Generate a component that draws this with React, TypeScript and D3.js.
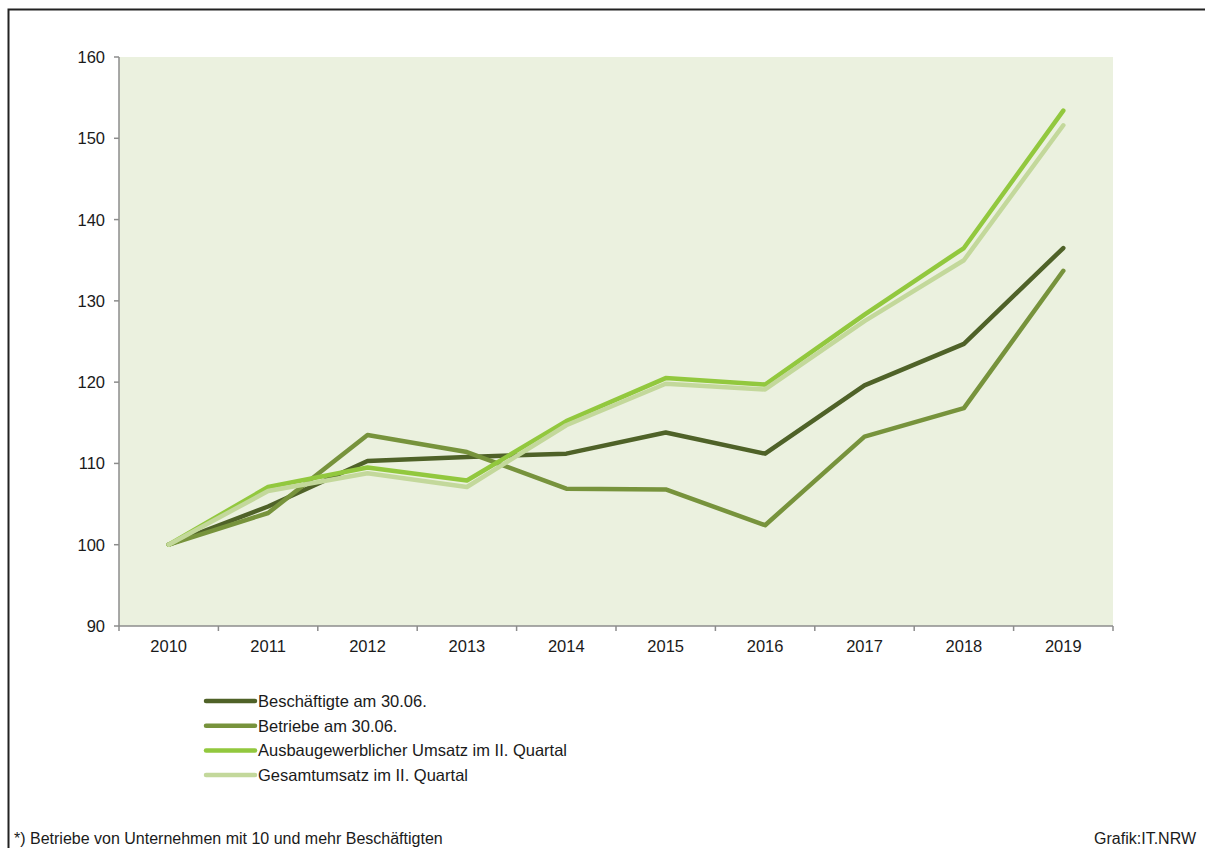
import React, { useRef, useEffect } from 'react';
import * as d3 from 'd3';

const years = ['2010', '2011', '2012', '2013', '2014', '2015', '2016', '2017', '2018', '2019'];
const beschaeftigte = [100, 104.7, 110.3, 110.8, 111.2, 113.8, 111.2, 119.6, 124.7, 136.5];
const betriebe = [100, 103.9, 113.5, 111.4, 106.9, 106.8, 102.4, 113.3, 116.8, 133.7];
const ausbauUmsatz = [100, 107.1, 109.5, 107.9, 115.2, 120.5, 119.7, 128.3, 136.5, 153.4];
const gesamtUmsatz = [100, 106.6, 108.8, 107.1, 114.7, 119.8, 119.1, 127.5, 135.0, 151.6];
const yTicks = [90, 100, 110, 120, 130, 140, 150, 160];

const seriesNames = [
  'Beschäftigte am 30.06.',
  'Betriebe am 30.06.',
  'Ausbaugewerblicher Umsatz im II. Quartal',
  'Gesamtumsatz im II. Quartal',
];
const seriesValues = [beschaeftigte, betriebe, ausbauUmsatz, gesamtUmsatz];
const seriesColors = ['#4f6228', '#77933c', '#92c83e', '#c3d89b'];

const W = 1205;
const H = 848;
const FONT = '"Liberation Sans", Arial, sans-serif';
const FS = 16.5;

export default function App() {
  const svgRef = useRef<SVGSVGElement>(null);

  useEffect(() => {
    if (!svgRef.current) return;
    const svg = d3.select(svgRef.current);
    svg.selectAll('*').remove();

    const left = 119, right = 1113, top = 57, bottom = 626;

    // rahmen: nur linke und obere kante sichtbar
    svg.append('path')
      .attr('d', `M8.5,${H} V9.5 H${W}`)
      .attr('fill', 'none')
      .attr('stroke', '#222').attr('stroke-width', 2);

    const x = d3.scaleBand<string>().domain(years).range([left, right]);
    const y = d3.scaleLinear().domain([90, 160]).range([bottom, top]);

    svg.append('rect')
      .attr('x', left).attr('y', top)
      .attr('width', right - left).attr('height', bottom - top)
      .attr('fill', '#ebf1df');

    // y-achse
    const gy = svg.append('g');
    gy.append('line')
      .attr('x1', left).attr('x2', left)
      .attr('y1', top).attr('y2', bottom)
      .attr('stroke', '#8c8c8c').attr('stroke-width', 1.5);
    yTicks.forEach(t => {
      gy.append('line')
        .attr('x1', left - 5).attr('x2', left)
        .attr('y1', y(t)).attr('y2', y(t))
        .attr('stroke', '#8c8c8c').attr('stroke-width', 1.5);
      gy.append('text')
        .attr('x', 105).attr('y', y(t) + 6)
        .attr('text-anchor', 'end')
        .attr('font-family', FONT).attr('font-size', FS)
        .attr('fill', '#1a1a1a')
        .text(t);
    });

    // x-achse
    const gx = svg.append('g');
    gx.append('line')
      .attr('x1', left).attr('x2', right)
      .attr('y1', bottom).attr('y2', bottom)
      .attr('stroke', '#8c8c8c').attr('stroke-width', 1.5);
    const bounds = years.map(yr => x(yr) as number).concat([right]);
    bounds.forEach(b => {
      gx.append('line')
        .attr('x1', b).attr('x2', b)
        .attr('y1', bottom).attr('y2', bottom + 5)
        .attr('stroke', '#8c8c8c').attr('stroke-width', 1.5);
    });
    years.forEach(yr => {
      gx.append('text')
        .attr('x', (x(yr) as number) + x.bandwidth() / 2)
        .attr('y', 652)
        .attr('text-anchor', 'middle')
        .attr('font-family', FONT).attr('font-size', FS)
        .attr('fill', '#1a1a1a')
        .text(yr);
    });

    // linien
    const line = d3.line<number>()
      .x((_, i) => (x(years[i]) as number) + x.bandwidth() / 2)
      .y(d => y(d));

    seriesValues.forEach((vals, i) => {
      svg.append('path')
        .attr('d', line(vals) as string)
        .attr('fill', 'none')
        .attr('stroke', seriesColors[i])
        .attr('stroke-width', 4.5)
        .attr('stroke-linecap', 'round')
        .attr('stroke-linejoin', 'round');
    });

    // legende
    seriesNames.forEach((name, i) => {
      const ly = 701 + i * 24.7;
      svg.append('line')
        .attr('x1', 206).attr('x2', 255)
        .attr('y1', ly).attr('y2', ly)
        .attr('stroke', seriesColors[i])
        .attr('stroke-width', 4.5)
        .attr('stroke-linecap', 'round');
      svg.append('text')
        .attr('x', 258).attr('y', ly + 6)
        .attr('font-family', FONT).attr('font-size', FS)
        .attr('fill', '#1a1a1a')
        .text(name);
    });

    svg.append('text')
      .attr('x', 14).attr('y', 844)
      .attr('font-family', FONT).attr('font-size', 16)
      .attr('fill', '#1a1a1a')
      .text('*) Betriebe von Unternehmen mit 10 und mehr Beschäftigten');

    svg.append('text')
      .attr('x', 1196).attr('y', 844)
      .attr('text-anchor', 'end')
      .attr('font-family', FONT).attr('font-size', 16)
      .attr('fill', '#1a1a1a')
      .text('Grafik:IT.NRW');
  }, []);

  return (
    <svg
      ref={svgRef}
      width={W}
      height={H}
      style={{ position: 'absolute', top: 0, left: 0, display: 'block', background: '#fff' }}
    />
  );
}
